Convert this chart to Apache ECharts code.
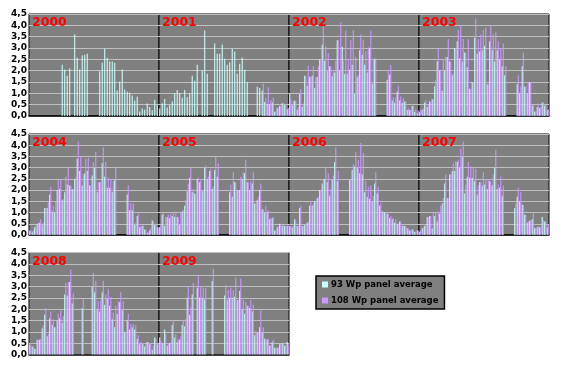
<!DOCTYPE html>
<html><head><meta charset="utf-8">
<script src="https://cdn.jsdelivr.net/npm/echarts@6/dist/echarts.min.js"></script>
<style>html,body{margin:0;padding:0;background:#fff}#c{width:561px;height:371px}</style>
</head><body><div id="c"></div>
<script>
const years = ['2000','2001','2002','2003','2004','2005','2006','2007','2008','2009'];
const weeks = [1,2,3,4,5,6,7,8,9,10,11,12,13,14,15,16,17,18,19,20,21,22,23,24,25,26,27,28,29,30,31,32,33,34,35,36,37,38,39,40,41,42,43,44,45,46,47,48,49,50,51,52];
const tickLabels = ['0,0','0,5','1,0','1,5','2,0','2,5','3,0','3,5','4,0','4,5'];
const seriesNames = ['93 Wp panel average','108 Wp panel average'];
const n = null;

const wp93_2000 = [n,n,n,n,n,n,n,n,n,n,n,n,n,2.26,2.05,1.78,2.1,n,3.6,2.57,2.05,2.67,2.7,2.75,n,n,n,n,1.97,2.35,2.98,2.57,2.4,2.4,2.35,1.12,1.52,2.05,1.17,1.07,1.03,0.9,0.68,0.85,0.2,0.33,0.28,0.55,0.4,0.25,0.72,0.47];
const wp108_2000 = [n,n,n,n,n,n,n,n,n,n,n,n,n,n,n,n,n,n,n,n,n,n,n,n,n,n,n,n,n,n,n,n,n,n,n,n,n,n,n,n,n,n,n,n,n,n,n,n,n,n,n,n];

const wp93_2001 = [0.33,0.56,0.75,0.37,0.49,0.64,1.02,1.15,1.02,0.81,1.15,0.84,1.02,1.78,1.55,2.26,n,2.0,3.77,1.86,n,n,3.2,2.75,2.75,3.15,2.53,2.26,2.37,2.97,2.85,1.86,2.3,2.57,2.04,1.5,n,n,n,1.29,1.24,1.12,0.62,0.53,0.53,0.6,0.19,0.34,0.44,0.56,0.49,0.3];
const wp108_2001 = [n,n,n,n,n,n,n,n,n,n,n,n,n,n,n,n,n,n,n,n,n,n,n,n,n,n,n,n,n,n,n,n,n,n,n,n,n,n,n,n,n,1.42,0.8,1.27,0.71,0.8,0.2,0.38,0.45,0.56,0.5,0.35];

const wp93_2002 = [0.97,0.49,0.67,0.27,0.97,0.41,1.78,1.33,1.72,1.78,1.23,1.72,2.49,3.15,2.44,1.97,2.19,1.75,1.92,3.34,2.01,3.05,1.86,1.86,2.04,2.26,0.97,1.72,2.9,2.7,2.26,1.92,3.0,1.42,2.53,n,n,n,n,1.6,1.82,0.68,0.59,1.08,0.68,0.59,0.64,0.27,0.27,0.44,0.19,0.12];
const wp108_2002 = [0.75,0.67,0.67,0.38,1.18,0.55,1.78,2.22,1.75,2.19,1.72,2.19,2.49,3.96,3.08,2.78,2.19,2.04,2.44,3.34,4.14,2.41,3.77,2.49,3.34,3.79,2.6,1.82,3.6,3.37,2.86,3.03,3.77,2.51,2.53,n,n,n,n,2.04,2.26,0.83,0.83,1.33,0.86,0.78,0.64,0.34,0.27,0.44,0.3,0.24];

const wp93_2003 = [0.19,0.27,0.6,0.4,0.64,0.74,1.3,2.4,2.0,1.1,2.0,2.6,2.4,1.8,3.0,3.3,2.55,2.4,2.8,2.15,1.2,1.5,3.45,2.75,2.85,2.9,3.1,1.4,3.3,2.9,2.4,2.9,2.5,2.2,1.8,n,n,n,n,1.4,1.0,2.2,1.3,1.0,1.5,0.45,0.2,0.4,0.35,0.6,0.45,0.25];
const wp108_2003 = [0.3,0.34,0.7,0.5,0.64,0.74,1.6,2.96,2.0,2.5,2.6,3.4,2.4,1.9,3.0,3.8,4.0,3.4,2.8,3.4,1.2,1.5,4.3,3.4,3.6,3.8,3.9,1.4,4.0,3.6,3.7,3.3,3.0,3.2,2.2,n,n,n,n,1.8,1.3,2.8,1.3,1.5,1.5,0.5,0.2,0.55,0.4,0.6,0.5,0.3];

const wp93_2004 = [0.2,0.15,0.35,0.5,0.55,0.45,1.2,1.2,1.8,1.05,1.0,2.0,2.05,1.55,1.9,2.25,2.2,2.05,2.5,3.4,2.85,2.2,2.75,2.85,2.2,2.65,3.0,1.9,2.35,3.2,2.6,2.1,2.1,1.9,2.45,n,n,n,n,1.8,1.1,1.1,0.45,0.85,0.35,0.4,0.25,0.1,0.2,0.65,0.45,0.35];
const wp108_2004 = [0.2,0.2,0.4,0.55,0.7,0.55,1.2,1.5,2.15,1.3,1.5,2.5,2.45,1.6,2.6,3.0,2.2,2.05,2.6,4.15,3.5,2.7,3.4,3.45,2.2,3.25,3.7,2.35,2.35,3.9,3.25,2.55,2.5,2.4,3.05,n,n,n,n,2.2,1.4,1.4,0.55,0.95,0.4,0.42,0.25,0.12,0.3,0.6,0.5,0.35];

const wp93_2005 = [0.35,0.9,0.4,0.8,0.75,0.85,0.8,0.8,0.45,1.05,1.3,1.95,2.55,1.9,1.85,2.5,2.35,1.95,3.0,2.5,2.85,2.05,2.9,2.6,n,n,n,n,1.9,1.7,2.35,2.0,2.0,2.5,2.75,2.35,2.0,2.3,1.4,1.55,2.0,1.15,1.0,1.0,0.7,0.75,0.2,0.35,0.5,0.4,0.4,0.4];
const wp108_2005 = [0.45,1.05,0.8,0.9,0.95,1.0,1.05,0.8,1.05,1.1,1.55,2.3,3.0,2.05,1.85,2.55,2.5,1.95,3.1,2.6,2.95,2.15,3.5,3.2,n,n,n,n,2.25,2.8,2.35,2.0,2.6,2.8,3.35,2.35,2.4,2.8,1.4,1.7,2.3,1.15,1.3,1.1,0.75,0.8,0.2,0.4,0.5,0.45,0.4,0.45];

const wp93_2006 = [0.4,0.35,0.7,0.4,1.2,0.4,0.45,0.55,1.3,1.3,1.5,1.65,2.0,2.3,2.5,2.35,1.75,2.45,3.25,2.4,n,n,n,n,2.45,2.9,3.05,3.0,2.75,2.7,1.9,1.7,1.6,1.5,2.3,1.85,1.3,1.05,1.0,0.95,0.75,0.7,0.55,0.5,0.6,0.4,0.4,0.3,0.2,0.25,0.15,0.2];
const wp108_2006 = [0.4,0.4,0.6,0.4,1.3,0.4,0.5,0.6,1.5,1.4,1.5,1.7,2.0,2.45,3.0,2.75,2.05,2.65,3.9,2.85,n,n,n,n,2.45,3.15,3.7,3.35,4.1,3.65,2.4,2.15,2.2,1.75,2.8,2.15,1.4,1.05,1.0,0.95,0.85,0.75,0.7,0.5,0.6,0.45,0.4,0.3,0.2,0.25,0.15,0.2];

const wp93_2007 = [0.15,0.3,0.4,0.8,0.85,0.3,0.85,0.6,0.95,1.4,2.3,1.65,2.7,2.85,2.85,3.25,3.0,3.5,1.85,2.6,2.55,2.55,2.4,1.8,2.35,2.2,2.25,2.05,2.4,2.2,3.0,2.05,2.1,1.75,n,n,n,n,1.2,1.7,1.5,1.35,0.9,0.55,0.65,0.7,0.3,0.35,0.35,0.8,0.6,0.35];
const wp108_2007 = [0.2,0.35,0.45,0.8,0.85,1.0,1.0,1.05,1.3,1.65,2.7,1.65,2.7,3.2,3.3,3.35,3.85,4.15,2.25,3.25,3.05,3.0,2.95,2.2,2.35,2.8,2.5,2.5,2.4,2.7,3.8,2.25,2.6,2.2,n,n,n,n,1.4,2.1,1.9,1.35,0.9,0.6,0.65,1.0,0.35,0.4,0.35,0.65,0.6,0.45];

const wp93_2008 = [0.45,0.35,0.25,0.65,0.65,1.15,1.75,0.8,1.6,1.3,1.2,1.5,1.6,1.4,2.65,2.6,3.2,2.25,n,n,n,2.05,n,n,n,3.0,2.75,2.0,1.9,2.75,2.2,2.45,2.15,1.55,1.2,1.8,2.3,1.95,1.0,1.5,1.1,1.2,1.1,0.7,0.45,0.45,0.35,0.55,0.45,0.2,0.75,0.45];
const wp108_2008 = [0.4,0.35,0.25,0.65,0.7,1.3,2.05,0.9,1.9,1.55,1.2,1.8,1.95,1.7,3.15,3.2,3.75,2.7,n,n,n,2.45,n,n,n,3.6,3.25,2.35,2.4,3.25,2.65,2.9,2.55,1.85,2.15,2.35,2.75,2.35,1.0,1.8,1.35,1.35,1.3,0.85,0.55,0.5,0.45,0.55,0.45,0.4,0.7,0.5];

const wp93_2009 = [0.75,0.5,1.1,0.4,0.5,1.3,0.75,0.55,0.65,1.3,1.25,2.5,1.75,2.65,n,2.95,2.52,2.5,2.43,n,n,3.24,n,n,n,n,2.6,2.4,2.5,2.5,2.55,2.4,2.8,2.0,1.8,2.15,2.05,1.9,0.85,0.95,1.2,0.95,0.7,0.65,0.4,0.55,0.3,0.3,0.45,0.5,0.4,0.55];
const wp108_2009 = [0.6,0.5,0.9,0.5,0.55,1.5,0.9,0.7,0.8,1.5,1.55,3.0,2.1,3.15,n,3.48,3.02,2.95,2.95,n,n,3.78,n,n,n,n,3.05,2.85,2.95,2.85,3.4,2.4,3.35,2.4,2.3,2.15,2.4,2.2,1.05,1.0,1.95,1.2,0.7,0.7,0.4,0.65,0.3,0.3,0.45,0.5,0.4,0.45];

const data93 = [wp93_2000,wp93_2001,wp93_2002,wp93_2003,wp93_2004,wp93_2005,wp93_2006,wp93_2007,wp93_2008,wp93_2009];
const data108 = [wp108_2000,wp108_2001,wp108_2002,wp108_2003,wp108_2004,wp108_2005,wp108_2006,wp108_2007,wp108_2008,wp108_2009];

const FONT = 'DejaVu Sans';
const rowTop = [14, 134, 252.5];
const rowH = [102, 101, 102];
const colLeft = 29, colW = 130;

const grids = [], xAxes = [], yAxes = [], series = [], titles = [];
years.forEach((y, i) => {
  const r = Math.floor(i / 4), c = i % 4;
  const left = colLeft + colW * c;
  grids.push({left: left, top: rowTop[r], width: colW, height: rowH[r], show: true,
    backgroundColor: '#808080', borderColor: '#000', borderWidth: 1});
  xAxes.push({type: 'category', gridIndex: i, data: weeks, boundaryGap: true,
    axisLabel: {show: false}, axisTick: {show: false},
    axisLine: {show: true, lineStyle: {color: '#000', width: 1.5}}, splitLine: {show: false}});
  yAxes.push({type: 'value', gridIndex: i, min: 0, max: 4.5, interval: 0.5,
    axisLine: {show: false}, axisTick: {show: false},
    axisLabel: {show: c === 0, margin: 2, color: '#000', fontFamily: FONT, fontSize: 9, fontWeight: 'bold',
      formatter: v => tickLabels[Math.round(v / 0.5)]},
    splitLine: {show: true, lineStyle: {color: '#C0C0C0', width: 1}}});
  series.push({type: 'bar', name: seriesNames[0], xAxisIndex: i, yAxisIndex: i, data: data93[i],
    itemStyle: {color: '#CCFFFF'}, barGap: '0%', barCategoryGap: '16%', z: 3});
  series.push({type: 'bar', name: seriesNames[1], xAxisIndex: i, yAxisIndex: i, data: data108[i],
    itemStyle: {color: '#CC99FF'}, barGap: '0%', barCategoryGap: '16%', z: 3});
  titles.push({text: y, left: left + 3, top: rowTop[r] + 2.5, padding: 0,
    textStyle: {color: '#FF0000', fontFamily: FONT, fontSize: 12.5, fontWeight: 'bold'}});
});

const chart = echarts.init(document.getElementById('c'), null, {renderer: 'canvas'});
chart.setOption({
  animation: false,
  title: titles,
  grid: grids,
  xAxis: xAxes,
  yAxis: yAxes,
  series: series,
  legend: {
    data: seriesNames, orient: 'vertical', left: 316, top: 276,
    backgroundColor: '#808080', borderColor: '#000', borderWidth: 1.5,
    padding: [4, 6, 4, 6], itemGap: 7, itemWidth: 6, itemHeight: 6, icon: 'rect',
    selectedMode: false,
    textStyle: {color: '#000', fontFamily: FONT, fontSize: 8.5, fontWeight: 'bold', padding: [0,0,0,-2]}
  }
});
</script></body></html>
